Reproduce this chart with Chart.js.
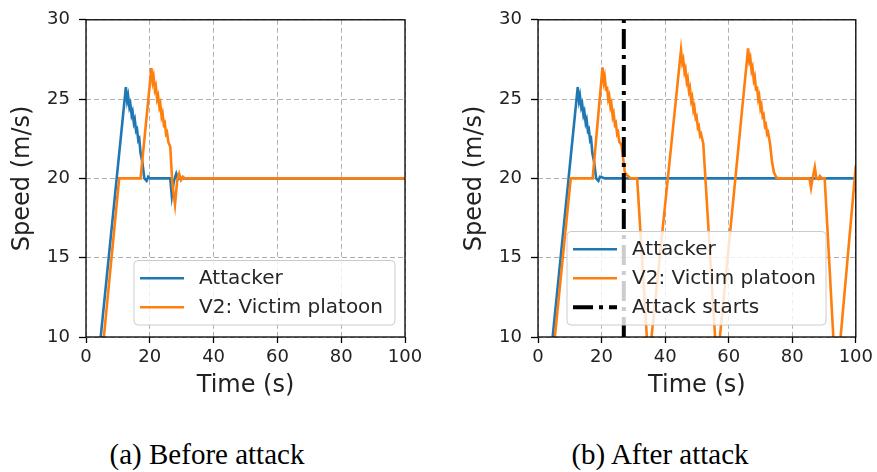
<!DOCTYPE html>
<html>
<head>
<meta charset="utf-8">
<script src="https://cdn.jsdelivr.net/npm/chart.js@4.4.0/dist/chart.umd.min.js"></script>
<style>
  body { margin: 0; background: #fff; width: 877px; height: 472px; position: relative; overflow: hidden; }
  canvas { position: absolute; top: 0; }
  #chartA { left: 0; }
  #chartB { left: 440px; }
  .cap { position: absolute; top: 438px; line-height: 33px; font: 29px "Liberation Serif", serif; color: #000;
         white-space: nowrap; transform: translateX(-50%); }
</style>
</head>
<body>
<canvas id="chartA" width="430" height="400"></canvas>
<canvas id="chartB" width="437" height="400"></canvas>
<div class="cap" style="left:207px">(a) Before attack</div>
<div class="cap" style="left:660px">(b) After attack</div>
<script>
// tick labels
const xTicks = [0, 20, 40, 60, 80, 100];
const yTicks = [10, 15, 20, 25, 30];
const attackStart = 27;

// [time (s), speed (m/s)]
const attackerBefore = [[0, 0.8], [12.5, 25.75], [12.9, 24.9], [13.2, 25.2], [13.6, 24.5], [13.9, 24.7],
  [14.3, 24.0], [14.6, 24.2], [15.0, 23.5], [15.3, 23.7], [15.7, 23.0], [16.0, 23.1], [16.4, 22.4],
  [16.7, 22.5], [17.1, 21.6], [17.6, 21.1], [18.3, 20.0], [19.0, 19.85], [19.5, 20.1], [20.0, 20.0],
  [26.4, 20.0], [26.9, 18.9], [27.5, 19.8], [28.3, 20.3], [28.9, 19.95], [29.6, 20.05], [30.5, 20.0], [100, 20.0]];

const victimBefore = [[0.8, 0], [10.4, 20], [17.1, 20], [20.5, 26.95], [20.9, 26.1], [21.2, 26.4],
  [21.6, 25.6], [21.9, 25.8], [22.3, 25.0], [22.6, 25.2], [23.0, 24.5], [23.3, 24.7], [23.7, 23.9],
  [24.0, 24.1], [24.4, 23.4], [24.7, 23.5], [25.1, 22.8], [25.4, 22.9], [25.8, 22.3], [26.4, 22.0],
  [27.1, 19.6], [27.9, 18.35], [28.6, 19.9], [29.2, 20.3], [29.8, 19.9], [30.4, 20.1], [31.0, 20.0], [100, 20.0]];

const attackerAfter = [[0, 0.8], [12.5, 25.75], [12.9, 24.9], [13.2, 25.2], [13.6, 24.5], [13.9, 24.7],
  [14.3, 24.0], [14.6, 24.2], [15.0, 23.5], [15.3, 23.7], [15.7, 23.0], [16.0, 23.1], [16.4, 22.4],
  [16.7, 22.5], [17.1, 21.6], [17.6, 21.1], [18.3, 20.0], [19.0, 19.85], [19.5, 20.1], [20.3, 20.05],
  [21.0, 20.0], [100, 20.0]];

const victimAfter = [[0.3, 0], [10.3, 20], [17.2, 20], [20.3, 27.0], [20.7, 26.1], [21.0, 26.4],
  [21.4, 25.6], [21.7, 25.8], [22.1, 25.0], [22.4, 25.2], [22.8, 24.5], [23.1, 24.7], [23.5, 23.9],
  [23.8, 24.1], [24.2, 23.4], [24.5, 23.5], [24.9, 22.8], [25.2, 22.9], [25.6, 22.3], [26.3, 22.1],
  [27.3, 20.4], [28.0, 20.2], [28.6, 20.1], [29.2, 20.0], [31.2, 20.0], [34.8, 8.2],
  [45.0, 28.1], [45.4, 27.3], [45.7, 27.5], [46.1, 26.7], [46.4, 26.9], [46.8, 26.1], [47.1, 26.3],
  [47.5, 25.5], [47.8, 25.7], [48.2, 24.9], [48.5, 25.1], [48.9, 24.3], [49.2, 24.5], [49.6, 23.8],
  [49.9, 23.9], [50.3, 23.2], [50.6, 23.3], [51.0, 22.7], [51.3, 22.8], [52.0, 22.2], [56.3, 8.1],
  [66.1, 28.2], [66.5, 27.4], [66.8, 27.6], [67.2, 26.8], [67.5, 27.0], [67.9, 26.2], [68.2, 26.4],
  [68.6, 25.6], [68.9, 25.8], [69.3, 25.0], [69.6, 25.2], [70.0, 24.4], [70.3, 24.6], [70.7, 23.9],
  [71.0, 24.0], [71.4, 23.3], [71.7, 23.4], [72.1, 22.8], [72.4, 22.9], [73.0, 22.2], [73.6, 21.1],
  [74.2, 20.4], [75.0, 20.05], [75.8, 20.0], [85.4, 20.0], [85.9, 19.4], [86.4, 20.0], [87.1, 20.7],
  [87.6, 20.0], [88.2, 19.95], [88.7, 20.15], [89.3, 20.0], [90.2, 20.0], [93.8, 6.8], [100, 20.8]];

const BLUE = '#1f77b4';
const ORANGE = '#ff7f0e';
const TICK_FONT = { family: 'DejaVu Sans', size: 18 };
const TITLE_FONT = { family: 'DejaVu Sans', size: 24 };

function toPoints(rows) {
    return rows.map(r => ({ x: r[0], y: r[1] }));
}

// black frame round the plot + matplotlib-like legend box
const framePlugin = {
    id: 'frameLegend',
    afterDraw(chart, args, opts) {
        const ctx = chart.ctx;
        const a = chart.chartArea;
        ctx.save();
        ctx.strokeStyle = '#000';
        ctx.lineWidth = 1.3;
        ctx.strokeRect(a.left, a.top, a.right - a.left, a.bottom - a.top);

        const sets = chart.data.datasets;
        const h = 35.5 + 29 * (sets.length - 1);
        const top = opts.bottom - h;
        ctx.beginPath();
        ctx.roundRect(opts.left, top, opts.width, h, 4);
        ctx.fillStyle = 'rgba(255,255,255,0.8)';
        ctx.fill();
        ctx.strokeStyle = '#cccccc';
        ctx.lineWidth = 1;
        ctx.stroke();

        ctx.font = '20px "DejaVu Sans"';
        ctx.textBaseline = 'middle';
        sets.forEach((ds, i) => {
            const y = top + 17.75 + 29 * i;
            ctx.beginPath();
            ctx.setLineDash(ds.borderDash || []);
            ctx.strokeStyle = ds.borderColor;
            ctx.lineWidth = ds.borderWidth;
            ctx.moveTo(opts.left + 6, y);
            ctx.lineTo(opts.left + 50, y);
            ctx.stroke();
            ctx.setLineDash([]);
            ctx.fillStyle = '#262626';
            ctx.fillText(ds.label, opts.left + 65, y + 1);
        });
        ctx.restore();
    }
};

function makeChart(id, datasets, yWidth, padRight, titlePad, legend) {
    return new Chart(document.getElementById(id), {
        type: 'line',
        data: { datasets: datasets },
        plugins: [framePlugin],
        options: {
            responsive: false,
            animation: false,
            layout: { padding: { top: 13, right: padRight, left: 0, bottom: 0 } },
            elements: { point: { radius: 0 }, line: { tension: 0 } },
            plugins: {
                legend: { display: false },
                tooltip: { enabled: false },
                frameLegend: legend
            },
            scales: {
                x: {
                    type: 'linear', min: 0, max: 100,
                    afterBuildTicks: s => { s.ticks = xTicks.map(v => ({ value: v })); },
                    afterFit: s => { s.height = 63; },
                    ticks: { font: TICK_FONT, color: '#222', padding: 4, maxRotation: 0 },
                    grid: { color: '#b0b0b0', lineWidth: 1, tickColor: '#000', tickLength: 6, tickWidth: 1.3 },
                    border: { display: false, dash: [5, 3] },
                    title: { display: true, text: 'Time (s)', font: TITLE_FONT, color: '#222',
                             padding: { top: 0, bottom: 0 } }
                },
                y: {
                    type: 'linear', min: 10, max: 30,
                    afterBuildTicks: s => { s.ticks = yTicks.map(v => ({ value: v })); },
                    afterFit: s => { s.width = yWidth; },
                    ticks: { font: TICK_FONT, color: '#222', padding: 9 },
                    grid: { color: '#b0b0b0', lineWidth: 1, tickColor: '#000', tickLength: 7, tickWidth: 1.3 },
                    border: { display: false, dash: [5, 3] },
                    title: { display: true, text: 'Speed (m/s)', font: TITLE_FONT, color: '#222',
                             padding: { top: titlePad, bottom: 0 } }
                }
            }
        }
    });
}

function series(label, rows, color, order) {
    return { label: label, data: toPoints(rows), borderColor: color, borderWidth: 2.6, order: order };
}

makeChart('chartA', [
    series('Attacker', attackerBefore, BLUE, 3),
    series('V2: Victim platoon', victimBefore, ORANGE, 2)
], 86, 25, 8.5, { left: 134, width: 261, bottom: 325 });

makeChart('chartB', [
    series('Attacker', attackerAfter, BLUE, 3),
    series('V2: Victim platoon', victimAfter, ORANGE, 2),
    { label: 'Attack starts', data: [{ x: attackStart, y: 10 }, { x: attackStart, y: 30 }],
      borderColor: '#000', borderWidth: 4, borderDash: [20, 6, 4, 6], order: 1 }
], 98, 21, 20.5, { left: 127, width: 259, bottom: 325 });
</script>
</body>
</html>
